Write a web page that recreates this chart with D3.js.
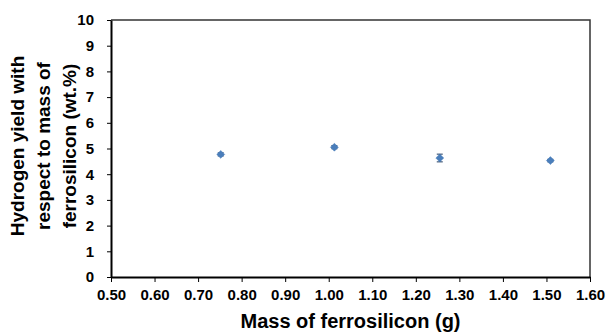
<!DOCTYPE html>
<html>
<head>
<meta charset="utf-8">
<script src="https://cdn.jsdelivr.net/npm/d3@7"></script>
<style>
body { margin: 0; background: #fff; }
text { font-family: "Liberation Sans", Arial, sans-serif; font-weight: bold; }
</style>
</head>
<body>
<div id="chart"></div>
<script>
var massValues = [0.752, 1.013, 1.255, 1.509];
var yieldValues = [4.77, 5.05, 4.63, 4.53];
var yieldErrors = [0.06, 0.06, 0.15, 0.05];
var xTicks = [0.5, 0.6, 0.7, 0.8, 0.9, 1.0, 1.1, 1.2, 1.3, 1.4, 1.5, 1.6];
var yTicks = [0, 1, 2, 3, 4, 5, 6, 7, 8, 9, 10];
var yLabelLines = ["Hydrogen yield with", "respect to mass of", "ferrosilicon (wt.%)"];

var width = 609, height = 333;
var margin = {top: 20, right: 19, bottom: 56, left: 111};

var svg = d3.select('#chart').append('svg')
	.attr('width', width)
	.attr('height', height);

var x = d3.scaleLinear()
	.domain([0.5, 1.6])
	.range([margin.left, width - margin.right]);

var y = d3.scaleLinear()
	.domain([0, 10])
	.range([height - margin.bottom, margin.top]);

// frame top and right
svg.append('path')
	.attr('fill', 'none')
	.attr('stroke', '#333')
	.attr('stroke-width', 1.5)
	.attr('d', `M${x(0.5)},${y(10)}H${x(1.6)}V${y(0)}`);

var xAxis = svg.append('g')
	.attr('transform', `translate(0,${y(0)})`)
	.call(d3.axisBottom(x).tickValues(xTicks).tickSize(5).tickSizeOuter(0).tickPadding(7).tickFormat(d3.format('.2f')));

var yAxis = svg.append('g')
	.attr('transform', `translate(${x(0.5)},0)`)
	.call(d3.axisLeft(y).tickValues(yTicks).tickSize(4).tickSizeOuter(0).tickPadding(13).tickFormat(d3.format('d')));

[xAxis, yAxis].forEach(function(g) {
	g.select('.domain').attr('stroke', '#000').attr('stroke-width', 2);
	g.selectAll('.tick line').attr('stroke', '#000').attr('stroke-width', 1);
	g.selectAll('.tick text')
		.attr('fill', '#000')
		.style('font-size', '15px')
		.style('font-weight', 'bold');
});

// error bars
var errGroup = svg.append('g').attr('stroke', '#1f3a5f').attr('stroke-width', 1);
massValues.forEach(function(m, i) {
	var lo = y(yieldValues[i] - yieldErrors[i]);
	var hi = y(yieldValues[i] + yieldErrors[i]);
	errGroup.append('path')
		.attr('d', `M${x(m)},${lo}V${hi}M${x(m) - 3},${lo}H${x(m) + 3}M${x(m) - 3},${hi}H${x(m) + 3}`);
});

// markers
svg.append('g')
	.selectAll('path')
	.data(massValues)
	.enter().append('path')
	.attr('transform', (d, i) => `translate(${x(d)},${y(yieldValues[i])})`)
	.attr('d', d3.symbol().type(d3.symbolDiamond2).size(40))
	.attr('fill', '#4a7ebb')
	.attr('stroke', '#4a7ebb')
	.attr('stroke-width', 0.5);

svg.append('text')
	.attr('x', (x(0.5) + x(1.6)) / 2)
	.attr('y', 328)
	.attr('text-anchor', 'middle')
	.style('font-size', '20px')
	.text('Mass of ferrosilicon (g)');

var yLabel = svg.append('text')
	.attr('transform', `translate(24,146) rotate(-90)`)
	.attr('text-anchor', 'middle')
	.style('font-size', '19px');

yLabel.selectAll('tspan')
	.data(yLabelLines)
	.enter().append('tspan')
	.attr('x', 0)
	.attr('dy', (d, i) => i === 0 ? 0 : 26)
	.text(d => d);
</script>
</body>
</html>
